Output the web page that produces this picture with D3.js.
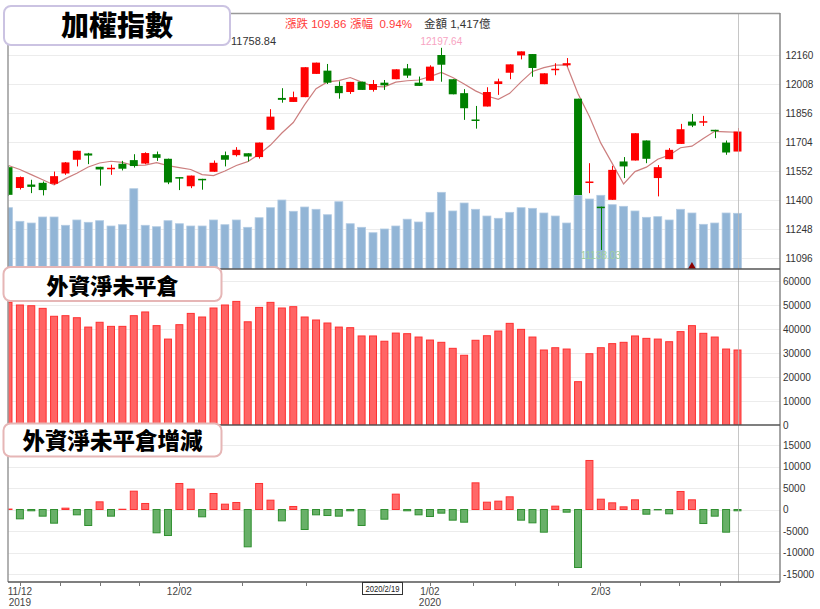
<!DOCTYPE html>
<html><head><meta charset="utf-8">
<script src="https://cdn.jsdelivr.net/npm/d3@7"></script>
<style>
body{margin:0;background:#fff;}
svg{display:block;font-family:"Liberation Sans",Arial,"Noto Sans CJK TC",sans-serif;}
</style>
</head><body>
<svg id="c" width="820" height="609"></svg>
<script>
// ---------------- DATA ----------------
const dates = [
"2019/11/11","2019/11/12","2019/11/13","2019/11/14","2019/11/15",
"2019/11/18","2019/11/19","2019/11/20","2019/11/21","2019/11/22",
"2019/11/25","2019/11/26","2019/11/27","2019/11/28","2019/11/29",
"2019/12/02","2019/12/03","2019/12/04","2019/12/05","2019/12/06",
"2019/12/09","2019/12/10","2019/12/11","2019/12/12","2019/12/13",
"2019/12/16","2019/12/17","2019/12/18","2019/12/19","2019/12/20",
"2019/12/23","2019/12/24","2019/12/25","2019/12/26","2019/12/27",
"2019/12/30","2019/12/31","2020/01/02","2020/01/03",
"2020/01/06","2020/01/07","2020/01/08","2020/01/09","2020/01/10",
"2020/01/13","2020/01/14","2020/01/15","2020/01/16","2020/01/17",
"2020/01/20","2020/01/30","2020/01/31",
"2020/02/03","2020/02/04","2020/02/05","2020/02/06","2020/02/07",
"2020/02/10","2020/02/11","2020/02/12","2020/02/13","2020/02/14",
"2020/02/17","2020/02/18","2020/02/19"];

const opens = [11572,11463,11481,11490,11485,11539,11611,11644,11574,11564,
11590,11609,11591,11640,11616,11520,11472,11511,11548,11635,
11635,11645,11625,11768,11935,11914,11939,12061,12078,11998,
11966,12020,11977,12015,12033,12090,12015,12025,12160,12033,
11960,11822,11890,12008,12067,12158,12165,12007,12082,12106,
11931,11489,11365,11401,11602,11607,11712,11515,11614,11694,
11811,11808,11768,11701,11654];

const highs = [11580,11523,11506,11497,11549,11599,11658,11647,11574,11585,
11605,11640,11650,11654,11617,11520,11528,11511,11607,11654,
11677,11645,11701,11876,11986,11968,12096,12120,12113,12022,
12019,12020,12029,12029,12085,12113,12047,12106,12197.64,12033,
11981,11893,11991,12036,12111,12179,12165,12064,12117,12144,
11931,11593,11365,11579,11625,11750,11712,11583,11672,11799,
11851,11841,11768,11712,11777];

const lows = [11422,11455,11436,11424,11480,11532,11576,11588,11475,11532,
11555,11570,11588,11605,11483,11452,11462,11454,11548,11576,
11628,11602,11617,11768,11910,11914,11939,12061,12008,11931,
11956,11977,11968,11977,12033,12040,11998,12025,12020,11954,
11820,11774,11890,11951,12033,12137,12046,12007,12054,12099,
11426,11436,11138.03,11401,11515,11607,11593,11419,11614,11694,
11782,11788,11724,11637,11654];

const closes = [11427,11520,11469,11452,11525,11597,11658,11633,11560,11569,
11564,11578,11646,11621,11492,11515,11528,11509,11595,11611,
11663,11628,11701,11837,11925,11939,12096,12120,12015,11960,
12019,11977,12008,12001,12085,12052,11998,12099,12109,11954,
11881,11817,11966,12022,12111,12179,12092,12064,12088,12117,
11426,11497,11362,11558,11576,11750,11616,11572,11663,11771,
11790,11813,11761,11648.98,11758.84];

const ma5 = [11581,11560,11533,11506,11479,11512,11540,11573,11594,11603,
11597,11581,11583,11596,11580,11570,11560,11533,11528,11552,
11581,11601,11640,11688,11751,11806,11900,11983,12019,12026,
12042,12018,11996,11993,12018,12025,12029,12047,12069,12042,
12008,11972,11945,11928,11959,12019,12074,12094,12107,12108,
11957,11838,11698,11592,11484,11549,11572,11614,11635,11674,
11682,11722,11760,11757,11755];

// trading amount (億)
const volume = [1560,1213,1170,1323,1323,1112,1247,1188,1229,1094,
1127,2043,1112,1076,1229,1152,1094,1094,1247,1127,
1247,1061,1305,1560,1755,1468,1577,1519,1381,1712,
1152,1061,923,1018,1094,1267,1196,1442,1951,1476,
1679,1519,1348,1290,1442,1560,1544,1425,1348,1170,
1875,1781,1875,1636,1595,1476,1315,1331,1247,1519,
1425,1137,1170,1425,1417];

const foreignOI = [51100,50000,49700,48600,45300,45550,44700,40800,42800,41100,
41100,45550,47100,41400,35800,41800,46500,45000,48750,50000,
51500,43000,49000,51100,48750,49300,45000,43750,42500,40800,
40550,37100,37100,34900,38300,38050,36650,35400,34450,31950,
29050,35300,37200,39150,42350,39850,36650,31250,32200,31650,
18050,29700,32200,33900,34450,37100,36100,35800,34700,38900,
41400,38200,36650,31650,31250];

const foreignOIChg = [100,-2170,-300,-1550,-3180,310,-1240,-3720,1780,-1550,
60,4260,1400,-5420,-6050,6050,4730,-1700,3720,1240,
1630,-8680,6050,2170,-2640,700,-4650,-1240,-1400,-1550,
-300,-3720,0,-2250,3570,-300,-1240,-1630,-850,-2480,
-2950,6200,1700,1940,2950,-2480,-3100,-5270,780,-620,
-13490,11400,2400,1550,620,2250,-1090,-80,-1000,4190,
2250,-3260,-1550,-5270,-300];

const priceTicks = [12160,12008,11856,11704,11552,11400,11248,11096];
const oiTicks = [0,10000,20000,30000,40000,50000,60000];
const chgTicks = [15000,10000,5000,0,-5000,-10000,-15000];
const xMinorTicks = [1,4.5,8,11.5,15,20.5,26.1,31.6,37,40.8,44.5,48.2,51.9,55.4,58.9,62.5];
const xLabelIdx = [1,15,37,52];
const xLabelText = ["11/12","12/02","1/02","2/03"];
const xLabelYear = ["2019","","2020",""];
const markerIdx = [60];
const titles = ["加權指數","外資淨未平倉","外資淨未平倉增減"];

const n = dates.length;
[opens,highs,lows,closes,ma5,volume,foreignOI,foreignOIChg].forEach((a,k)=>{
  if(a.length!==n) throw new Error("array "+k+" length "+a.length);
});

// ---------------- LAYOUT ----------------
const L=8, R=780, T1=13, B1=269, B2=425, B3=582;
const svg = d3.select("#c");

const x = d3.scaleBand().domain(dates).range([2.8, 743.2]).paddingInner(0.3).paddingOuter(0.15);
const bw = x.bandwidth();
const cx = d => x(d)+bw/2;
const xi = d3.scaleLinear().domain([0,n-1]).range([cx(dates[0]), cx(dates[n-1])]);

const yP = d3.scaleLinear().domain([11096,12160]).range([258,55]);
const yV = d3.scaleLinear().domain([0,2000]).range([B1,190.4]);
const yO = d3.scaleLinear().domain([0,60000]).range([B2,281]);
const yC = d3.scaleLinear().domain([-15000,15000]).range([574,445]);

const defs = svg.append("defs");
function clip(id,y0,y1){
  defs.append("clipPath").attr("id",id).append("rect")
    .attr("x",L).attr("y",y0).attr("width",R-L).attr("height",y1-y0);
}
clip("c1",T1,B1); clip("c2",B1,B2); clip("c3",B2,B3);

// grid lines
function grid(ticks,scale){
  svg.append("g").selectAll("line").data(ticks).join("line")
    .attr("x1",L).attr("x2",R)
    .attr("y1",d=>Math.round(scale(d))+0.5).attr("y2",d=>Math.round(scale(d))+0.5)
    .attr("stroke","#ececec").attr("stroke-width",1);
}
grid(priceTicks,yP); grid(oiTicks.filter(d=>d>0),yO); grid(chgTicks,yC);

// ---------------- PANEL 1 ----------------
const p1 = svg.append("g").attr("clip-path","url(#c1)");
p1.append("g").selectAll("rect").data(dates).join("rect")
  .attr("x",d=>x(d)).attr("width",bw)
  .attr("y",(d,i)=>yV(volume[i])).attr("height",(d,i)=>B1-yV(volume[i]))
  .attr("fill","#92b5d6").attr("stroke","#b3cbe3").attr("stroke-width",0.8);

p1.append("path").datum(dates)
  .attr("fill","none").attr("stroke","#cc7f7f").attr("stroke-width",1.2)
  .attr("d",d3.line().x(d=>cx(d)).y((d,i)=>yP(ma5[i])));

const col = i => closes[i]>=opens[i] ? "#ff0000" : "#008000";
const cg = p1.append("g");
cg.selectAll("line").data(dates).join("line")
  .attr("x1",d=>Math.round(cx(d))+0.5).attr("x2",d=>Math.round(cx(d))+0.5)
  .attr("y1",(d,i)=>yP(highs[i])).attr("y2",(d,i)=>yP(lows[i]))
  .attr("stroke",(d,i)=>col(i)).attr("stroke-width",1);
cg.selectAll("rect").data(dates).join("rect")
  .attr("x",d=>x(d)).attr("width",bw)
  .attr("y",(d,i)=>yP(Math.max(opens[i],closes[i])))
  .attr("height",(d,i)=>Math.max(1.5,Math.abs(yP(opens[i])-yP(closes[i]))))
  .attr("fill",(d,i)=>col(i));

// high / low labels
const iHi = d3.maxIndex(highs), iLo = d3.minIndex(lows);
svg.append("text").attr("x",cx(dates[iHi])).attr("y",yP(highs[iHi])-3)
  .attr("text-anchor","middle").attr("font-size",10).attr("fill","#f7a3c2")
  .text(highs[iHi].toFixed(2));
svg.append("text").attr("x",cx(dates[iLo])).attr("y",yP(lows[iLo])+9)
  .attr("text-anchor","middle").attr("font-size",10).attr("fill","#9fcf9f")
  .text(lows[iLo].toFixed(2));

// markers
svg.append("g").selectAll("path").data(markerIdx).join("path")
  .attr("d",i=>{const c=cx(dates[i]);return `M${c-4},${B1}L${c+4},${B1}L${c},${B1-7}Z`;})
  .attr("fill","#8b0000");

// ---------------- PANEL 2 ----------------
svg.append("g").attr("clip-path","url(#c2)").selectAll("rect").data(dates).join("rect")
  .attr("x",d=>x(d)+0.5).attr("width",bw-1)
  .attr("y",(d,i)=>yO(foreignOI[i])).attr("height",(d,i)=>B2-yO(foreignOI[i]))
  .attr("fill","#ff6464").attr("stroke","#ff3030").attr("stroke-width",1);

// ---------------- PANEL 3 ----------------
svg.append("g").attr("clip-path","url(#c3)").selectAll("rect").data(dates).join("rect")
  .attr("x",d=>x(d)+0.5).attr("width",bw-1)
  .attr("y",(d,i)=>yC(Math.max(0,foreignOIChg[i])))
  .attr("height",(d,i)=>Math.abs(yC(foreignOIChg[i])-yC(0)))
  .attr("fill",(d,i)=>foreignOIChg[i]>=0?"#ff6868":"#68b068")
  .attr("stroke",(d,i)=>foreignOIChg[i]>=0?"#ff3030":"#2f8f2f").attr("stroke-width",1);

// crosshair
svg.append("line").attr("x1",Math.round(cx(dates[n-1]))+0.5).attr("x2",Math.round(cx(dates[n-1]))+0.5)
  .attr("y1",T1).attr("y2",B3).attr("stroke","#b8b8b8").attr("stroke-width",1).attr("opacity",0.8);

// ---------------- FRAME ----------------
const fr = svg.append("g");
fr.append("line").attr("x1",L).attr("x2",R).attr("y1",T1+0.5).attr("y2",T1+0.5).attr("stroke","#999").attr("stroke-width",1.5);
fr.append("line").attr("x1",L).attr("x2",L).attr("y1",T1).attr("y2",B3).attr("stroke","#999").attr("stroke-width",1.5);
fr.append("line").attr("x1",R).attr("x2",R).attr("y1",T1).attr("y2",B3).attr("stroke","#888").attr("stroke-width",1.5);
[B1,B2,B3].forEach(y=>fr.append("line").attr("x1",L).attr("x2",R).attr("y1",y).attr("y2",y).attr("stroke","#555").attr("stroke-width",1.5));

// right axes
function rAxis(ticks,scale,xp,fmt){
  svg.append("g").selectAll("text").data(ticks).join("text")
    .attr("x",xp).attr("y",d=>scale(d)).attr("dy","0.35em")
    .attr("font-size",10).attr("fill","#333").text(fmt);
}
rAxis(priceTicks,yP,785.5,d=>d);
rAxis(oiTicks,yO,783,d=>d);
rAxis(chgTicks.filter(d=>true),yC,783,d=>d);

// bottom axis
svg.append("g").selectAll("line").data(xMinorTicks).join("line")
  .attr("x1",d=>Math.round(xi(d))+0.5).attr("x2",d=>Math.round(xi(d))+0.5)
  .attr("y1",B3).attr("y2",B3+4).attr("stroke","#777");
svg.append("g").selectAll("text").data(xLabelIdx).join("text")
  .attr("x",d=>xi(d)).attr("y",595).attr("text-anchor","middle")
  .attr("font-size",10).attr("fill","#444").text((d,k)=>xLabelText[k]);
svg.append("g").selectAll("text").data(xLabelIdx).join("text")
  .attr("x",d=>xi(d)).attr("y",606).attr("text-anchor","middle")
  .attr("font-size",10).attr("fill","#444").text((d,k)=>xLabelYear[k]);

// date box of crosshair
const lastDate = dates[n-1].split("/");
const dateText = `${lastDate[0]}/${+lastDate[1]}/${+lastDate[2]}`;
svg.append("rect").attr("x",362.5).attr("y",582.5).attr("width",40).attr("height",12)
  .attr("fill","#fff").attr("stroke","#333").attr("stroke-width",1);
svg.append("text").attr("x",382.5).attr("y",592).attr("text-anchor","middle")
  .attr("font-size",9.5).attr("textLength",34).attr("lengthAdjust","spacingAndGlyphs")
  .attr("fill","#222").text(dateText);

// ---------------- HEADER ----------------
const chg = closes[n-1]-closes[n-2];
const pct = chg/closes[n-2]*100;
const hdr = svg.append("g").attr("font-size",11.5);
hdr.append("text").attr("x",285).attr("y",28).attr("fill","#ff3b3b").text(`漲跌 ${chg.toFixed(2)}`);
hdr.append("text").attr("x",350).attr("y",28).attr("fill","#ff3b3b").attr("xml:space","preserve").text(`漲幅  ${pct.toFixed(2)}%`);
hdr.append("text").attr("x",424).attr("y",28).attr("fill","#333").text(`金額 ${d3.format(",")(volume[n-1])}億`);
svg.append("text").attr("x",231).attr("y",44.5).attr("font-size",11).attr("fill","#333").text(closes[n-1].toFixed(2));

// ---------------- TITLE BOXES ----------------
function titleBox(x0,y0,w,h,stroke,txt,fs,base){
  svg.append("rect").attr("x",x0).attr("y",y0).attr("width",w).attr("height",h)
    .attr("rx",7).attr("fill","#fff").attr("stroke",stroke).attr("stroke-width",2);
  svg.append("text").attr("x",x0+w/2).attr("y",base).attr("text-anchor","middle")
    .attr("font-family","'Noto Sans CJK TC','Noto Sans CJK SC',sans-serif")
    .attr("font-weight",900).attr("font-size",fs).attr("fill","#000").text(txt);
}
titleBox(4,6,226,39,"#cbc3e2",titles[0],28,35.5);
titleBox(3.5,267,218,34,"#e6b6b6",titles[1],22,293.5);
titleBox(3.5,423.5,218,33,"#e6b6b6",titles[2],22.5,449);
</script>
</body></html>
